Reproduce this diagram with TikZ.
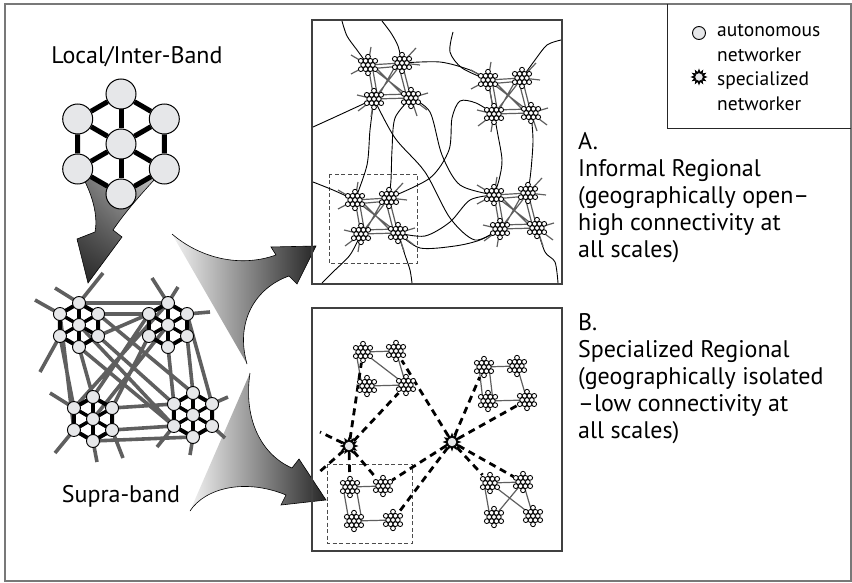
\documentclass[tikz,border=0pt]{standalone}
\usepackage{fontspec}
\setmainfont{PT Sans}
\usetikzlibrary{calc,shadings}

\definecolor{workergray}{RGB}{230,231,233}
\definecolor{linkgray}{RGB}{95,95,95}
\definecolor{wiregray}{RGB}{95,95,95}
\definecolor{framegray}{RGB}{120,120,120}

\tikzset{
  worker/.style={circle, draw=black, fill=workergray, line width=1pt, inner sep=0pt, minimum size=30pt},
  bandlink/.style={black, line width=5pt},
  hexnode/.style={draw=black, fill=workergray, line width=0.9pt},
  tinynode/.style={draw=black, fill=white, line width=0.85pt},
  supralink/.style={linkgray, line width=3.6pt},
  regionlink/.style={wiregray, line width=1.2pt},
  wire/.style={black, line width=0.9pt},
  hublink/.style={black, line width=2.8pt, dash pattern=on 7pt off 5pt, shorten <=7pt, shorten >=11pt},
  zoombox/.style={black!70, line width=0.8pt, dash pattern=on 4pt off 2.5pt},
  panel/.style={black!75, line width=1.1pt},
  bigtext/.style={font=\fontsize{24}{27}\selectfont, inner sep=0pt},
  legtext/.style={font=\fontsize{19.5}{25}\selectfont, inner sep=0pt},
}

% supra-band cluster around coordinate #1
\newcommand{\midhex}[1]{%
  \draw[line width=4pt] (#1-t) -- (#1-ur) -- (#1-lr) -- (#1-b) -- (#1-ll) -- (#1-ul) -- cycle;
  \foreach \p in {t,ur,lr,b,ll,ul} \draw[line width=3.5pt] (#1) -- (#1-\p);
  \foreach \p in {t,ur,lr,b,ll,ul} \draw[hexnode] (#1-\p) circle[radius=6.5pt];
  \draw[hexnode] (#1) circle[radius=6.5pt];
}
% small regional cluster
\newcommand{\tinyhex}[1]{%
  \begin{scope}[shift={(#1)}]
    \draw[tinynode] (0,0) circle[radius=2.4pt];
    \foreach \a in {0,60,...,300} \draw[tinynode] (\a:4.8pt) circle[radius=2.4pt];
    \foreach \a in {30,90,...,330} \draw[tinynode] (\a:8.3pt) circle[radius=2.4pt];
  \end{scope}}
% specialized networker
\newcommand{\hubstar}[2]{%
  \begin{scope}[shift={(#1)}, scale=#2]
    \fill[black] (0:9.5pt) \foreach \i [evaluate=\i as \rad using {9.5-3.8*mod(\i,2)}] in {1,...,23}{ -- (15*\i:\rad pt)} -- cycle;
    \draw[hexnode, line width=0.5pt] (0,0) circle[radius=4.6pt];
  \end{scope}}

\begin{document}
\begin{tikzpicture}[x=1pt, y=-1pt]
\useasboundingbox (0,0) rectangle (852,583);
\draw[framegray, line width=1.2pt] (5,4) rectangle (851,581);

% arrows
\shade[upper left=black!55, upper right=black!15, lower left=black!85, lower right=black!75, draw=black, line width=0.6pt]
  (78,169) .. controls (97,200) and (97,222) .. (95,232) -- (77,239) -- (88,283)
  -- (122,237) -- (113,230) .. controls (128,208) and (145,190) .. (164,169) -- (121,194) -- cycle;
\def\arrowApath{(172,234) .. controls (200,258) and (240,268) .. (276,255) -- (271,247) -- (316,246)
  -- (297,284) -- (289,276) .. controls (255,288) and (235,322) .. (247,364)}
\shade[left color=black!5, right color=black!85] \arrowApath -- cycle;
\draw[line width=0.6pt] \arrowApath;
\def\arrowBpath{(250,373) .. controls (243,420) and (262,455) .. (292,468) -- (299,459) -- (326,500)
  -- (281,505) -- (286,495) .. controls (245,478) and (205,488) .. (190,511)}
\shade[left color=black!5, right color=black!85] \arrowBpath -- cycle;
\draw[line width=0.6pt] \arrowBpath;

% local / inter-band
\node[worker] (lc) at (121,144) {};
\foreach \n/\a in {lt/90, lur/30, llr/-30, lb/-90, lll/210, lul/150}
  \node[worker] (\n) at ($(lc)+(\a:50pt)$) {};
\draw[bandlink] (lt) -- (lur) -- (llr) -- (lb) -- (lll) -- (lul) -- (lt);
\foreach \n in {lt, lur, llr, lb, lll, lul} \draw[bandlink] (lc) -- (\n);
\node[bigtext, anchor=base] (localtxt) at (137,64) {Local/Inter-Band};

% supra-band
\foreach \m/\x/\y in {m1/79/325, m2/168/325, m3/93/419, m4/193/415}{
  \coordinate (\m) at (\x,\y);
  \foreach \p/\a in {t/90, ur/30, lr/-30, b/-90, ll/210, ul/150}
    \coordinate (\m-\p) at ($(\m)+(\a:22pt)$);
}
\draw[supralink]
  (m1-t) -- (m2-t) (m1-ur) -- (m2-ul) (m1-ul) -- (m3-ll) (m1-ll) -- (m3-ul) (m1-b) -- (m3-t)
  (m2-ur) -- (m4-ur) (m2-lr) -- (m4-t) (m2-b) -- (m4-ul)
  (m3-b) -- (m4-b) (m3-lr) -- (m4-ll) (m3-ur) -- (m4-ul)
  (m2-ul) -- (m3-t) (m2-ll) -- (m3-ur) (m2) -- (m3) (m2-t) -- (m3-ul)
  (m1-lr) -- (m4-ul) (m1) -- (m4-ll) (m1-ur) -- (m4-t) (m1-b) -- (m4-ll) (m2-ul) -- (m1-lr)
  (m1-ul) -- (35,300) (m1-t) -- (55,288) (m1-t) -- (103,273) (m1-ll) -- (40,372)
  (m2-t) -- (152,278) (m2-t) -- (178,287) (m2-ur) -- (210,312)
  (m3-ul) -- (50,393) (m3-ll) -- (55,453) (m3-b) -- (97,462) (m3-lr) -- (123,458)
  (m4-ur) -- (228,397) (m4-lr) -- (225,438) (m4-b) -- (190,455) (m4-ll) -- (157,447);
\foreach \m in {m1,m2,m3,m4} {\midhex{\m}}
\node[bigtext, anchor=base] (supratxt) at (121,502) {Supra-band};

% panel A
\draw[panel] (312,20) rectangle (562,284);
\draw[zoombox] (329,174) rectangle (417,263);
\foreach \rg/\x/\y in {ra/368/65, rb/488/80, rc/355/200, rd/494/195}{
  \coordinate (\rg1) at (\x,\y);
  \coordinate (\rg2) at (\x+34,\y-2);
  \coordinate (\rg3) at (\x+6,\y+34);
  \coordinate (\rg4) at (\x+43,\y+33);
}
\path
  (342,21) coordinate (e1) (382,21) coordinate (e2) (453,32) coordinate (e3)
  (561,40) coordinate (e4) (313,127) coordinate (e5) (313,182) coordinate (e6)
  (322,283) coordinate (e7) (412,283) coordinate (e8) (558,283) coordinate (e9)
;
\draw[wire] plot[smooth] coordinates {(e1) (347,36) (357,50) (ra1)};
\draw[wire] plot[smooth] coordinates {(e2) (391,33) (398,46) (ra2)};
\draw[wire] plot[smooth] coordinates {(e3) (450,52) (462,68) (rb1)};
\draw[wire] plot[smooth] coordinates {(e4) (547,45) (535,60) (rb2)};
\draw[wire] plot[smooth] coordinates {(ra2) (440,62) (470,70) (rb1)};
\draw[wire] plot[smooth] coordinates {(e5) (335,117) (ra3)};
\draw[wire] plot[smooth] coordinates {(ra3) (370,130) (367,165) (rc1)};
\draw[wire] plot[smooth] coordinates {(ra4) (395,118) (392,150) (391,180) (rc2)};
\draw[wire] plot[smooth] coordinates {(ra3) (395,138) (425,172) (450,218) (475,240) (rd3)};
\draw[wire] plot[smooth] coordinates {(ra4) (430,112) (442,155) (460,185) (rd1)};
\draw[wire] plot[smooth] coordinates {(rb3) (476,103) (460,101) (452,118) (449,150) (430,178) (rc2)};
\draw[wire] plot[smooth] coordinates {(rb1) (497,130) (502,160) (499,180) (rd1)};
\draw[wire] plot[smooth] coordinates {(rb4) (533,140) (531,170) (rd2)};
\draw[wire] plot[smooth] coordinates {(e6) (333,190) (rc1)};
\draw[wire] plot[smooth] coordinates {(rc4) (425,236) (450,222) (470,200) (rd1)};
\draw[wire] plot[smooth] coordinates {(rc4) (420,248) (455,246) (480,240) (rd3)};
\draw[wire] plot[smooth] coordinates {(rc3) (350,255) (333,272) (e7)};
\draw[wire] plot[smooth] coordinates {(rc4) (405,255) (410,270) (e8)};
\draw[wire] plot[smooth] coordinates {(rd4) (545,252) (555,262) (e9)};
\foreach \rg in {ra,rb,rc,rd}{
  \draw[regionlink]
    (\rg1) -- (\rg2) ([yshift=-4pt]\rg1) -- ([yshift=-3pt]\rg2)
    (\rg1) -- (\rg3) ([xshift=4pt]\rg1) -- ([xshift=4pt]\rg3)
    (\rg2) -- (\rg4) ([xshift=-4pt]\rg2) -- ([xshift=-4pt]\rg4)
    (\rg3) -- (\rg4) ([yshift=4pt]\rg3) -- ([yshift=4pt]\rg4)
    (\rg1) -- (\rg4) ([xshift=5pt]\rg1) -- ([yshift=-5pt]\rg4)
    (\rg2) -- (\rg3) ([xshift=-5pt]\rg2) -- ([yshift=-5pt]\rg3)
    (\rg1) -- ++(-17,-10) (\rg1) -- ++(-17,9) (\rg1) -- ++(3,-18)
    (\rg2) -- ++(14,-15) (\rg2) -- ++(18,2)
    (\rg3) -- ++(-16,12) (\rg3) -- ++(-3,18) (\rg3) -- ++(-17,-4)
    (\rg4) -- ++(16,12) (\rg4) -- ++(6,18) (\rg4) -- ++(17,-5);
  \foreach \k in {1,...,4} {\tinyhex{\rg\k}}
}
\node[bigtext, anchor=north west, align=left] (atxt) at (578,132)
  {A.\\Informal Regional\\(geographically open--\\high connectivity at\\all scales)};

% panel B
\draw[panel] (312,308) rectangle (562,551);
\draw[zoombox] (327,464) rectangle (412,543);
\foreach \g/\x/\y in {ba/363/352, bb/484/367, bc/350/487, bd/490/483}{
  \coordinate (\g1) at (\x,\y);
  \coordinate (\g2) at (\x+33,\y-1);
  \coordinate (\g3) at (\x+4,\y+34);
  \coordinate (\g4) at (\x+43,\y+33);
}
\path (349,446) coordinate (s1) (452,442) coordinate (s2)
  (320,432) coordinate (s1w) (317,474) coordinate (s1sw);
\draw[regionlink] (ba1) -- (ba2) ([xshift=-7pt]ba1) -- ([xshift=-5pt]ba3) (ba3) -- (ba4) (ba2) -- (ba4) (ba1) -- (ba4);
\draw[regionlink] (bb1) -- (bb2) ([xshift=-5pt]bb1) -- ([xshift=-5pt]bb3) ([xshift=5pt]bb1) -- ([xshift=5pt]bb3) (bb3) -- (bb4) (bb2) -- (bb4);
\draw[regionlink] (bc1) -- (bc2) ([xshift=-7pt]bc1) -- ([xshift=-5pt]bc3) ([xshift=6pt]bc1) -- ([xshift=8pt]bc3) (bc3) -- (bc4);
\draw[regionlink] (bd1) -- (bd2) ([xshift=-6pt]bd1) -- ([xshift=-4pt]bd3) (bd1) -- (bd4) (bd3) -- (bd2) (bd2) -- (bd4);
\draw[hublink, shorten >=0pt] (s1) -- (s1w);
\draw[hublink, shorten >=0pt] (s1) -- (s1sw);
\foreach \t in {ba1, ba4, bc1, bc2} \draw[hublink] (s1) -- (\t);
\foreach \t in {ba2, bb1, bb4, bd1, bd2, bc2, bc4} \draw[hublink] (s2) -- (\t);
\foreach \g in {ba,bb,bc,bd}{
  \foreach \k in {1,...,4} {\tinyhex{\g\k}}
}
\hubstar{s1}{1}
\hubstar{s2}{1}
\node[bigtext, anchor=north west, align=left] (btxt) at (578,313)
  {B.\\Specialized Regional\\(geographically isolated\\--low connectivity at\\all scales)};

% legend
\draw[black!85, line width=1pt] (667,4) |- (851,129);
\node[worker, minimum size=13pt, line width=0.9pt] (legauto) at (699,33) {};
\coordinate (legspec) at (699,77);
\hubstar{legspec}{0.9}
\node[legtext, anchor=base west] (legautotxt) at (717,37) {autonomous};
\node[legtext, anchor=base west] (legautotxt2) at (717,62) {networker};
\node[legtext, anchor=base west] (legspectxt) at (717,86) {specialized};
\node[legtext, anchor=base west] (legspectxt2) at (717,111) {networker};
\end{tikzpicture}
\end{document}
